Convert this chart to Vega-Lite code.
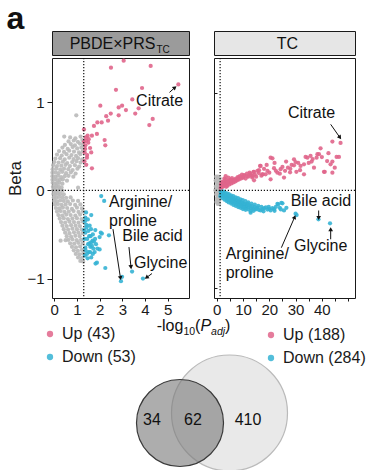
{
  "$schema": "https://vega.github.io/schema/vega-lite/v6.json",
  "background": "white",
  "padding": {"left": 6, "top": 2, "right": 0, "bottom": 0},
  "title": {"text": "a", "anchor": "start", "frame": "bounds", "fontSize": 32, "fontWeight": "bold", "color": "#111111", "offset": -5},
  "config": {
    "font": "Liberation Sans",
    "view": {"stroke": "#1a1a1a", "strokeWidth": 1},
    "axis": {"grid": false, "domain": false, "tickColor": "#1a1a1a", "labelColor": "#1a1a1a", "labelFontSize": 15, "titleFontSize": 17, "titleFontWeight": "normal", "titleColor": "#1a1a1a", "tickSize": 3, "labelPadding": 1},
    "legend": {"labelFontSize": 16, "labelColor": "#1a1a1a", "symbolSize": 40, "symbolType": "circle", "symbolStrokeWidth": 0, "symbolOpacity": 0.85, "rowPadding": 7, "labelOffset": 4, "padding": 0}
  },
  "datasets": {
    "pbde": [
      {"logp":0.70,"beta":0.60,"dir":"NS"},{"logp":0.93,"beta":0.59,"dir":"NS"},{"logp":1.16,"beta":0.61,"dir":"NS"},{"logp":0.44,"beta":0.61,"dir":"NS"},
      {"logp":0.63,"beta":0.555,"dir":"NS"},{"logp":0.86,"beta":0.565,"dir":"NS"},{"logp":1.04,"beta":0.55,"dir":"NS"},{"logp":1.24,"beta":0.57,"dir":"NS"},
      {"logp":0.47,"beta":0.515,"dir":"NS"},{"logp":0.73,"beta":0.525,"dir":"NS"},{"logp":0.91,"beta":0.51,"dir":"NS"},{"logp":1.13,"beta":0.53,"dir":"NS"},{"logp":1.27,"beta":0.515,"dir":"NS"},
      {"logp":0.36,"beta":0.485,"dir":"NS"},{"logp":0.59,"beta":0.47,"dir":"NS"},{"logp":0.81,"beta":0.49,"dir":"NS"},{"logp":1.01,"beta":0.475,"dir":"NS"},{"logp":1.19,"beta":0.485,"dir":"NS"},
      {"logp":0.21,"beta":0.445,"dir":"NS"},{"logp":0.43,"beta":0.435,"dir":"NS"},{"logp":0.66,"beta":0.45,"dir":"NS"},{"logp":0.87,"beta":0.44,"dir":"NS"},{"logp":1.09,"beta":0.43,"dir":"NS"},{"logp":1.26,"beta":0.445,"dir":"NS"},
      {"logp":0.12,"beta":0.405,"dir":"NS"},{"logp":0.33,"beta":0.395,"dir":"NS"},{"logp":0.54,"beta":0.41,"dir":"NS"},{"logp":0.76,"beta":0.40,"dir":"NS"},{"logp":0.96,"beta":0.39,"dir":"NS"},{"logp":1.15,"beta":0.41,"dir":"NS"},
      {"logp":0.05,"beta":0.36,"dir":"NS"},{"logp":0.26,"beta":0.365,"dir":"NS"},{"logp":0.46,"beta":0.35,"dir":"NS"},{"logp":0.66,"beta":0.37,"dir":"NS"},{"logp":0.85,"beta":0.355,"dir":"NS"},{"logp":1.05,"beta":0.365,"dir":"NS"},{"logp":1.23,"beta":0.35,"dir":"NS"},
      {"logp":0.00,"beta":0.32,"dir":"NS"},{"logp":0.19,"beta":0.315,"dir":"NS"},{"logp":0.38,"beta":0.325,"dir":"NS"},{"logp":0.57,"beta":0.31,"dir":"NS"},{"logp":0.79,"beta":0.32,"dir":"NS"},{"logp":0.98,"beta":0.33,"dir":"NS"},{"logp":1.16,"beta":0.315,"dir":"NS"},
      {"logp":-0.05,"beta":0.285,"dir":"NS"},{"logp":0.12,"beta":0.275,"dir":"NS"},{"logp":0.31,"beta":0.28,"dir":"NS"},{"logp":0.50,"beta":0.29,"dir":"NS"},{"logp":0.69,"beta":0.275,"dir":"NS"},{"logp":0.91,"beta":0.285,"dir":"NS"},{"logp":1.10,"beta":0.27,"dir":"NS"},
      {"logp":-0.07,"beta":0.24,"dir":"NS"},{"logp":0.09,"beta":0.245,"dir":"NS"},{"logp":0.26,"beta":0.235,"dir":"NS"},{"logp":0.43,"beta":0.245,"dir":"NS"},{"logp":0.62,"beta":0.24,"dir":"NS"},{"logp":0.81,"beta":0.23,"dir":"NS"},{"logp":1.02,"beta":0.245,"dir":"NS"},
      {"logp":-0.08,"beta":0.20,"dir":"NS"},{"logp":0.05,"beta":0.205,"dir":"NS"},{"logp":0.19,"beta":0.195,"dir":"NS"},{"logp":0.35,"beta":0.21,"dir":"NS"},{"logp":0.52,"beta":0.195,"dir":"NS"},{"logp":0.73,"beta":0.205,"dir":"NS"},{"logp":0.94,"beta":0.19,"dir":"NS"},
      {"logp":-0.08,"beta":0.16,"dir":"NS"},{"logp":0.04,"beta":0.155,"dir":"NS"},{"logp":0.16,"beta":0.165,"dir":"NS"},{"logp":0.30,"beta":0.15,"dir":"NS"},{"logp":0.46,"beta":0.16,"dir":"NS"},{"logp":0.63,"beta":0.165,"dir":"NS"},{"logp":0.84,"beta":0.155,"dir":"NS"},
      {"logp":-0.08,"beta":0.12,"dir":"NS"},{"logp":0.03,"beta":0.125,"dir":"NS"},{"logp":0.14,"beta":0.115,"dir":"NS"},{"logp":0.25,"beta":0.12,"dir":"NS"},{"logp":0.38,"beta":0.125,"dir":"NS"},{"logp":0.56,"beta":0.11,"dir":"NS"},
      {"logp":-0.07,"beta":0.085,"dir":"NS"},{"logp":0.03,"beta":0.075,"dir":"NS"},{"logp":0.12,"beta":0.08,"dir":"NS"},{"logp":0.22,"beta":0.085,"dir":"NS"},{"logp":0.36,"beta":0.075,"dir":"NS"},
      {"logp":-0.06,"beta":0.04,"dir":"NS"},{"logp":0.03,"beta":0.035,"dir":"NS"},{"logp":0.10,"beta":0.045,"dir":"NS"},{"logp":0.20,"beta":0.04,"dir":"NS"},{"logp":0.32,"beta":0.035,"dir":"NS"},{"logp":1.05,"beta":0.03,"dir":"NS"},
      {"logp":-0.05,"beta":0.005,"dir":"NS"},{"logp":0.04,"beta":-0.005,"dir":"NS"},{"logp":0.12,"beta":0.0,"dir":"NS"},{"logp":0.22,"beta":0.005,"dir":"NS"},{"logp":0.36,"beta":-0.002,"dir":"NS"},
      {"logp":-0.04,"beta":-0.04,"dir":"NS"},{"logp":0.05,"beta":-0.045,"dir":"NS"},{"logp":0.15,"beta":-0.035,"dir":"NS"},{"logp":0.27,"beta":-0.04,"dir":"NS"},{"logp":0.42,"beta":-0.045,"dir":"NS"},
      {"logp":-0.02,"beta":-0.08,"dir":"NS"},{"logp":0.08,"beta":-0.085,"dir":"NS"},{"logp":0.20,"beta":-0.075,"dir":"NS"},{"logp":0.35,"beta":-0.08,"dir":"NS"},{"logp":0.52,"beta":-0.085,"dir":"NS"},{"logp":0.72,"beta":-0.08,"dir":"NS"},
      {"logp":0.00,"beta":-0.12,"dir":"NS"},{"logp":0.12,"beta":-0.125,"dir":"NS"},{"logp":0.26,"beta":-0.115,"dir":"NS"},{"logp":0.42,"beta":-0.12,"dir":"NS"},{"logp":0.60,"beta":-0.125,"dir":"NS"},{"logp":0.82,"beta":-0.115,"dir":"NS"},{"logp":1.05,"beta":-0.12,"dir":"NS"},
      {"logp":0.03,"beta":-0.16,"dir":"NS"},{"logp":0.16,"beta":-0.155,"dir":"NS"},{"logp":0.32,"beta":-0.165,"dir":"NS"},{"logp":0.50,"beta":-0.16,"dir":"NS"},{"logp":0.70,"beta":-0.155,"dir":"NS"},{"logp":0.92,"beta":-0.165,"dir":"NS"},{"logp":1.15,"beta":-0.16,"dir":"NS"},
      {"logp":0.07,"beta":-0.20,"dir":"NS"},{"logp":0.22,"beta":-0.205,"dir":"NS"},{"logp":0.38,"beta":-0.195,"dir":"NS"},{"logp":0.57,"beta":-0.20,"dir":"NS"},{"logp":0.78,"beta":-0.21,"dir":"NS"},{"logp":1.00,"beta":-0.195,"dir":"NS"},{"logp":1.22,"beta":-0.205,"dir":"NS"},
      {"logp":0.12,"beta":-0.24,"dir":"NS"},{"logp":0.28,"beta":-0.235,"dir":"NS"},{"logp":0.45,"beta":-0.245,"dir":"NS"},{"logp":0.64,"beta":-0.24,"dir":"NS"},{"logp":0.85,"beta":-0.235,"dir":"NS"},{"logp":1.07,"beta":-0.245,"dir":"NS"},{"logp":1.27,"beta":-0.24,"dir":"NS"},
      {"logp":0.18,"beta":-0.28,"dir":"NS"},{"logp":0.35,"beta":-0.285,"dir":"NS"},{"logp":0.53,"beta":-0.275,"dir":"NS"},{"logp":0.72,"beta":-0.28,"dir":"NS"},{"logp":0.93,"beta":-0.285,"dir":"NS"},{"logp":1.14,"beta":-0.275,"dir":"NS"},
      {"logp":0.24,"beta":-0.32,"dir":"NS"},{"logp":0.42,"beta":-0.315,"dir":"NS"},{"logp":0.60,"beta":-0.325,"dir":"NS"},{"logp":0.80,"beta":-0.32,"dir":"NS"},{"logp":1.00,"beta":-0.315,"dir":"NS"},{"logp":1.20,"beta":-0.325,"dir":"NS"},
      {"logp":0.30,"beta":-0.36,"dir":"NS"},{"logp":0.48,"beta":-0.365,"dir":"NS"},{"logp":0.67,"beta":-0.355,"dir":"NS"},{"logp":0.87,"beta":-0.36,"dir":"NS"},{"logp":1.07,"beta":-0.365,"dir":"NS"},{"logp":1.26,"beta":-0.355,"dir":"NS"},
      {"logp":0.36,"beta":-0.40,"dir":"NS"},{"logp":0.55,"beta":-0.405,"dir":"NS"},{"logp":0.74,"beta":-0.395,"dir":"NS"},{"logp":0.94,"beta":-0.40,"dir":"NS"},{"logp":1.13,"beta":-0.405,"dir":"NS"},
      {"logp":0.42,"beta":-0.44,"dir":"NS"},{"logp":0.61,"beta":-0.445,"dir":"NS"},{"logp":0.80,"beta":-0.435,"dir":"NS"},{"logp":1.00,"beta":-0.44,"dir":"NS"},{"logp":1.20,"beta":-0.445,"dir":"NS"},
      {"logp":0.48,"beta":-0.48,"dir":"NS"},{"logp":0.67,"beta":-0.485,"dir":"NS"},{"logp":0.87,"beta":-0.475,"dir":"NS"},{"logp":1.06,"beta":-0.48,"dir":"NS"},{"logp":1.25,"beta":-0.485,"dir":"NS"},
      {"logp":0.55,"beta":-0.52,"dir":"NS"},{"logp":0.74,"beta":-0.525,"dir":"NS"},{"logp":0.93,"beta":-0.515,"dir":"NS"},{"logp":1.12,"beta":-0.52,"dir":"NS"},
      {"logp":0.50,"beta":-0.565,"dir":"NS"},{"logp":0.28,"beta":-0.57,"dir":"NS"},{"logp":0.62,"beta":-0.56,"dir":"NS"},{"logp":0.80,"beta":-0.555,"dir":"NS"},{"logp":0.99,"beta":-0.565,"dir":"NS"},{"logp":1.18,"beta":-0.56,"dir":"NS"},
      {"logp":0.70,"beta":-0.60,"dir":"NS"},{"logp":0.88,"beta":-0.605,"dir":"NS"},{"logp":1.06,"beta":-0.595,"dir":"NS"},{"logp":1.25,"beta":-0.60,"dir":"NS"},
      {"logp":0.78,"beta":-0.64,"dir":"NS"},{"logp":0.96,"beta":-0.645,"dir":"NS"},{"logp":1.14,"beta":-0.635,"dir":"NS"},
      {"logp":0.86,"beta":-0.68,"dir":"NS"},{"logp":1.04,"beta":-0.685,"dir":"NS"},{"logp":1.22,"beta":-0.675,"dir":"NS"},
      {"logp":0.95,"beta":-0.72,"dir":"NS"},{"logp":1.12,"beta":-0.725,"dir":"NS"},{"logp":1.28,"beta":-0.715,"dir":"NS"},
      {"logp":1.05,"beta":-0.76,"dir":"NS"},{"logp":1.22,"beta":-0.765,"dir":"NS"},{"logp":1.15,"beta":-0.80,"dir":"NS"},{"logp":1.27,"beta":-0.805,"dir":"NS"},
      {"logp":0.97,"beta":0.85,"dir":"NS"},
      {"logp":3.06,"beta":1.47,"dir":"Up"},{"logp":2.50,"beta":1.39,"dir":"Up"},{"logp":4.25,"beta":1.41,"dir":"Up"},{"logp":5.47,"beta":1.20,"dir":"Up"},{"logp":2.72,"beta":1.14,"dir":"Up"},
      {"logp":3.87,"beta":1.16,"dir":"Up"},{"logp":3.44,"beta":1.03,"dir":"Up"},{"logp":2.03,"beta":0.96,"dir":"Up"},{"logp":2.84,"beta":0.94,"dir":"Up"},{"logp":2.99,"beta":0.96,"dir":"Up"},
      {"logp":3.16,"beta":0.91,"dir":"Up"},{"logp":2.49,"beta":0.87,"dir":"Up"},{"logp":2.29,"beta":0.84,"dir":"Up"},{"logp":2.84,"beta":0.85,"dir":"Up"},{"logp":3.57,"beta":0.87,"dir":"Up"},
      {"logp":3.72,"beta":0.93,"dir":"Up"},{"logp":4.34,"beta":0.81,"dir":"Up"},{"logp":4.19,"beta":0.74,"dir":"Up"},{"logp":2.37,"beta":0.79,"dir":"Up"},{"logp":2.09,"beta":0.77,"dir":"Up"},
      {"logp":1.90,"beta":0.77,"dir":"Up"},{"logp":1.75,"beta":0.73,"dir":"Up"},{"logp":1.31,"beta":0.69,"dir":"Up"},{"logp":1.66,"beta":0.62,"dir":"Up"},{"logp":1.88,"beta":0.64,"dir":"Up"},
      {"logp":1.47,"beta":0.62,"dir":"Up"},{"logp":2.22,"beta":0.57,"dir":"Up"},{"logp":2.25,"beta":0.51,"dir":"Up"},{"logp":1.40,"beta":0.56,"dir":"Up"},{"logp":1.37,"beta":0.51,"dir":"Up"},
      {"logp":1.63,"beta":0.43,"dir":"Up"},{"logp":1.44,"beta":0.37,"dir":"Up"},{"logp":1.41,"beta":0.29,"dir":"Up"},{"logp":1.66,"beta":0.25,"dir":"Up"},{"logp":1.34,"beta":0.43,"dir":"Up"},
      {"logp":1.50,"beta":0.54,"dir":"Up"},{"logp":1.36,"beta":0.47,"dir":"Up"},{"logp":1.45,"beta":0.40,"dir":"Up"},{"logp":1.33,"beta":0.33,"dir":"Up"},{"logp":1.52,"beta":0.58,"dir":"Up"},
      {"logp":1.39,"beta":0.60,"dir":"Up"},{"logp":1.58,"beta":0.48,"dir":"Up"},{"logp":1.31,"beta":0.55,"dir":"Up"},
      {"logp":2.07,"beta":-0.065,"dir":"Down"},{"logp":2.20,"beta":-0.12,"dir":"Down"},{"logp":1.63,"beta":-0.28,"dir":"Down"},{"logp":1.37,"beta":-0.31,"dir":"Down"},{"logp":1.41,"beta":-0.39,"dir":"Down"},
      {"logp":1.81,"beta":-0.45,"dir":"Down"},{"logp":2.10,"beta":-0.49,"dir":"Down"},{"logp":2.00,"beta":-0.53,"dir":"Down"},{"logp":1.69,"beta":-0.57,"dir":"Down"},{"logp":1.62,"beta":-0.59,"dir":"Down"},
      {"logp":1.49,"beta":-0.61,"dir":"Down"},{"logp":1.84,"beta":-0.61,"dir":"Down"},{"logp":2.00,"beta":-0.67,"dir":"Down"},{"logp":1.78,"beta":-0.70,"dir":"Down"},{"logp":1.44,"beta":-0.72,"dir":"Down"},
      {"logp":1.63,"beta":-0.76,"dir":"Down"},{"logp":1.88,"beta":-0.82,"dir":"Down"},{"logp":2.25,"beta":-0.88,"dir":"Down"},{"logp":3.43,"beta":-0.92,"dir":"Down"},{"logp":2.99,"beta":-0.98,"dir":"Down"},
      {"logp":2.94,"beta":-1.03,"dir":"Down"},{"logp":3.91,"beta":-1.00,"dir":"Down"},{"logp":1.37,"beta":-0.48,"dir":"Down"},{"logp":1.54,"beta":-0.52,"dir":"Down"},{"logp":1.37,"beta":-0.65,"dir":"Down"},
      {"logp":1.59,"beta":-0.64,"dir":"Down"},{"logp":1.35,"beta":-0.35,"dir":"Down"},{"logp":1.42,"beta":-0.42,"dir":"Down"},{"logp":1.50,"beta":-0.46,"dir":"Down"},{"logp":1.56,"beta":-0.40,"dir":"Down"},
      {"logp":1.33,"beta":-0.55,"dir":"Down"},{"logp":1.45,"beta":-0.55,"dir":"Down"},{"logp":1.60,"beta":-0.52,"dir":"Down"},{"logp":1.70,"beta":-0.50,"dir":"Down"},{"logp":1.75,"beta":-0.58,"dir":"Down"},
      {"logp":1.55,"beta":-0.60,"dir":"Down"},{"logp":1.66,"beta":-0.63,"dir":"Down"},{"logp":1.38,"beta":-0.68,"dir":"Down"},{"logp":1.52,"beta":-0.70,"dir":"Down"},{"logp":1.70,"beta":-0.72,"dir":"Down"},
      {"logp":1.35,"beta":-0.74,"dir":"Down"},{"logp":1.47,"beta":-0.77,"dir":"Down"},{"logp":1.58,"beta":-0.70,"dir":"Down"},{"logp":1.90,"beta":-0.66,"dir":"Down"},{"logp":2.41,"beta":-0.51,"dir":"Down"},
      {"logp":1.40,"beta":-0.25,"dir":"Down"},{"logp":1.32,"beta":-0.45,"dir":"Down"},{"logp":1.62,"beta":-0.44,"dir":"Down"},{"logp":1.80,"beta":-0.55,"dir":"Down"},{"logp":1.48,"beta":-0.33,"dir":"Down"},
      {"logp":2.05,"beta":-0.48,"dir":"Down"},{"logp":1.72,"beta":-0.66,"dir":"Down"},{"logp":1.82,"beta":-0.83,"dir":"Down"}
    ],
    "tc": [
      {"logp":-0.5,"beta":0.0,"dir":"NS"},{"logp":-0.3,"beta":0.02,"dir":"NS"},{"logp":-0.2,"beta":-0.02,"dir":"NS"},{"logp":0.0,"beta":0.04,"dir":"NS"},{"logp":0.1,"beta":-0.04,"dir":"NS"},
      {"logp":0.2,"beta":0.01,"dir":"NS"},{"logp":0.3,"beta":-0.01,"dir":"NS"},{"logp":0.4,"beta":0.03,"dir":"NS"},{"logp":0.5,"beta":-0.03,"dir":"NS"},{"logp":0.6,"beta":0.0,"dir":"NS"},
      {"logp":0.7,"beta":0.02,"dir":"NS"},{"logp":0.8,"beta":-0.02,"dir":"NS"},{"logp":0.9,"beta":0.05,"dir":"NS"},{"logp":1.0,"beta":-0.05,"dir":"NS"},{"logp":1.1,"beta":0.01,"dir":"NS"},
      {"logp":1.2,"beta":-0.01,"dir":"NS"},{"logp":-0.4,"beta":0.05,"dir":"NS"},{"logp":-0.1,"beta":-0.06,"dir":"NS"},{"logp":0.3,"beta":0.06,"dir":"NS"},{"logp":0.6,"beta":-0.06,"dir":"NS"},
      {"logp":0.8,"beta":0.04,"dir":"NS"},{"logp":1.0,"beta":0.03,"dir":"NS"},{"logp":1.2,"beta":-0.04,"dir":"NS"},{"logp":0.0,"beta":0.0,"dir":"NS"},{"logp":0.4,"beta":-0.07,"dir":"NS"},
      {"logp":0.9,"beta":-0.07,"dir":"NS"},{"logp":0.5,"beta":0.07,"dir":"NS"},{"logp":-0.2,"beta":0.07,"dir":"NS"},{"logp":1.15,"beta":0.06,"dir":"NS"},{"logp":0.2,"beta":-0.05,"dir":"NS"},
      {"logp":1.5,"beta":0.012,"dir":"Up"},{"logp":1.8,"beta":0.02,"dir":"Up"},{"logp":2.0,"beta":0.015,"dir":"Up"},{"logp":2.2,"beta":0.028,"dir":"Up"},{"logp":2.5,"beta":0.02,"dir":"Up"},
      {"logp":2.7,"beta":0.035,"dir":"Up"},{"logp":3.0,"beta":0.025,"dir":"Up"},{"logp":3.2,"beta":0.04,"dir":"Up"},{"logp":3.5,"beta":0.03,"dir":"Up"},{"logp":3.8,"beta":0.045,"dir":"Up"},
      {"logp":4.0,"beta":0.022,"dir":"Up"},{"logp":4.2,"beta":0.038,"dir":"Up"},{"logp":4.5,"beta":0.05,"dir":"Up"},{"logp":4.8,"beta":0.03,"dir":"Up"},{"logp":5.0,"beta":0.042,"dir":"Up"},
      {"logp":5.3,"beta":0.055,"dir":"Up"},{"logp":5.6,"beta":0.035,"dir":"Up"},{"logp":6.0,"beta":0.048,"dir":"Up"},{"logp":1.6,"beta":0.03,"dir":"Up"},{"logp":2.4,"beta":0.045,"dir":"Up"},
      {"logp":3.3,"beta":0.055,"dir":"Up"},{"logp":2.9,"beta":0.06,"dir":"Up"},{"logp":4.4,"beta":0.065,"dir":"Up"},{"logp":1.9,"beta":0.04,"dir":"Up"},{"logp":3.6,"beta":0.018,"dir":"Up"},
      {"logp":5.8,"beta":0.062,"dir":"Up"},{"logp":6.3,"beta":0.04,"dir":"Up"},{"logp":6.6,"beta":0.055,"dir":"Up"},{"logp":7.0,"beta":0.045,"dir":"Up"},{"logp":7.3,"beta":0.06,"dir":"Up"},
      {"logp":7.6,"beta":0.05,"dir":"Up"},{"logp":8.0,"beta":0.068,"dir":"Up"},{"logp":8.4,"beta":0.055,"dir":"Up"},{"logp":8.8,"beta":0.072,"dir":"Up"},{"logp":9.2,"beta":0.06,"dir":"Up"},
      {"logp":9.6,"beta":0.08,"dir":"Up"},{"logp":10.0,"beta":0.065,"dir":"Up"},{"logp":10.5,"beta":0.075,"dir":"Up"},{"logp":11.0,"beta":0.06,"dir":"Up"},{"logp":11.5,"beta":0.085,"dir":"Up"},
      {"logp":12.0,"beta":0.07,"dir":"Up"},{"logp":12.5,"beta":0.09,"dir":"Up"},{"logp":13.0,"beta":0.078,"dir":"Up"},{"logp":13.5,"beta":0.065,"dir":"Up"},{"logp":14.0,"beta":0.095,"dir":"Up"},
      {"logp":14.5,"beta":0.08,"dir":"Up"},{"logp":15.0,"beta":0.07,"dir":"Up"},{"logp":15.5,"beta":0.1,"dir":"Up"},{"logp":16.0,"beta":0.088,"dir":"Up"},{"logp":16.5,"beta":0.125,"dir":"Up"},
      {"logp":17.0,"beta":0.075,"dir":"Up"},{"logp":17.5,"beta":0.082,"dir":"Up"},{"logp":18.0,"beta":0.11,"dir":"Up"},{"logp":18.6,"beta":0.082,"dir":"Up"},{"logp":19.3,"beta":0.099,"dir":"Up"},
      {"logp":20.0,"beta":0.09,"dir":"Up"},{"logp":20.5,"beta":0.056,"dir":"Up"},{"logp":21.2,"beta":0.164,"dir":"Up"},{"logp":21.8,"beta":0.113,"dir":"Up"},{"logp":22.5,"beta":0.1,"dir":"Up"},
      {"logp":23.1,"beta":0.09,"dir":"Up"},{"logp":24.3,"beta":0.108,"dir":"Up"},{"logp":25.0,"beta":0.12,"dir":"Up"},{"logp":25.6,"beta":0.065,"dir":"Up"},{"logp":26.4,"beta":0.147,"dir":"Up"},
      {"logp":27.1,"beta":0.116,"dir":"Up"},{"logp":27.9,"beta":0.092,"dir":"Up"},{"logp":28.5,"beta":0.13,"dir":"Up"},{"logp":29.4,"beta":0.128,"dir":"Up"},{"logp":29.4,"beta":0.159,"dir":"Up"},
      {"logp":30.3,"beta":0.095,"dir":"Up"},{"logp":31.0,"beta":0.14,"dir":"Up"},{"logp":31.7,"beta":0.103,"dir":"Up"},{"logp":31.9,"beta":0.125,"dir":"Up"},{"logp":33.2,"beta":0.133,"dir":"Up"},
      {"logp":33.2,"beta":0.082,"dir":"Up"},{"logp":33.8,"beta":0.171,"dir":"Up"},{"logp":34.5,"beta":0.167,"dir":"Up"},{"logp":35.7,"beta":0.176,"dir":"Up"},{"logp":36.1,"beta":0.147,"dir":"Up"},
      {"logp":37.0,"beta":0.116,"dir":"Up"},{"logp":38.0,"beta":0.167,"dir":"Up"},{"logp":38.3,"beta":0.185,"dir":"Up"},{"logp":38.9,"beta":0.185,"dir":"Up"},{"logp":39.5,"beta":0.215,"dir":"Up"},
      {"logp":40.8,"beta":0.095,"dir":"Up"},{"logp":41.1,"beta":0.095,"dir":"Up"},{"logp":42.0,"beta":0.15,"dir":"Up"},{"logp":43.3,"beta":0.133,"dir":"Up"},{"logp":44.0,"beta":0.147,"dir":"Up"},
      {"logp":44.0,"beta":0.09,"dir":"Up"},{"logp":44.9,"beta":0.116,"dir":"Up"},{"logp":45.6,"beta":0.171,"dir":"Up"},{"logp":46.5,"beta":0.171,"dir":"Up"},{"logp":44.0,"beta":0.25,"dir":"Up"},
      {"logp":47.1,"beta":0.243,"dir":"Up"},{"logp":10.4,"beta":0.078,"dir":"Up"},{"logp":9.8,"beta":0.065,"dir":"Up"},{"logp":8.5,"beta":0.065,"dir":"Up"},{"logp":7.9,"beta":0.056,"dir":"Up"},
      {"logp":6.6,"beta":0.051,"dir":"Up"},{"logp":5.3,"beta":0.048,"dir":"Up"},{"logp":4.1,"beta":0.039,"dir":"Up"},{"logp":2.8,"beta":0.031,"dir":"Up"},{"logp":3.4,"beta":0.073,"dir":"Up"},
      {"logp":14.2,"beta":0.051,"dir":"Up"},{"logp":20.5,"beta":0.167,"dir":"Up"},{"logp":16.1,"beta":0.103,"dir":"Up"},{"logp":17.4,"beta":0.082,"dir":"Up"},{"logp":14.2,"beta":0.095,"dir":"Up"},
      {"logp":12.9,"beta":0.085,"dir":"Up"},{"logp":11.7,"beta":0.073,"dir":"Up"},{"logp":13.6,"beta":0.073,"dir":"Up"},{"logp":16.7,"beta":0.125,"dir":"Up"},{"logp":19.0,"beta":0.13,"dir":"Up"},
      {"logp":22.0,"beta":0.14,"dir":"Up"},{"logp":24.0,"beta":0.085,"dir":"Up"},{"logp":26.0,"beta":0.1,"dir":"Up"},{"logp":28.0,"beta":0.11,"dir":"Up"},{"logp":30.0,"beta":0.145,"dir":"Up"},
      {"logp":35.0,"beta":0.14,"dir":"Up"},{"logp":36.5,"beta":0.16,"dir":"Up"},{"logp":40.0,"beta":0.17,"dir":"Up"},{"logp":42.5,"beta":0.19,"dir":"Up"},
      {"logp":1.5,"beta":-0.008,"dir":"Down"},{"logp":1.8,"beta":-0.015,"dir":"Down"},{"logp":2.0,"beta":-0.01,"dir":"Down"},{"logp":2.3,"beta":-0.022,"dir":"Down"},{"logp":2.6,"beta":-0.015,"dir":"Down"},
      {"logp":2.9,"beta":-0.028,"dir":"Down"},{"logp":3.2,"beta":-0.02,"dir":"Down"},{"logp":3.5,"beta":-0.032,"dir":"Down"},{"logp":3.8,"beta":-0.025,"dir":"Down"},{"logp":4.1,"beta":-0.038,"dir":"Down"},
      {"logp":4.4,"beta":-0.03,"dir":"Down"},{"logp":4.7,"beta":-0.042,"dir":"Down"},{"logp":5.0,"beta":-0.035,"dir":"Down"},{"logp":5.3,"beta":-0.045,"dir":"Down"},{"logp":5.6,"beta":-0.038,"dir":"Down"},
      {"logp":5.9,"beta":-0.05,"dir":"Down"},{"logp":6.2,"beta":-0.042,"dir":"Down"},{"logp":6.5,"beta":-0.055,"dir":"Down"},{"logp":6.8,"beta":-0.046,"dir":"Down"},{"logp":7.1,"beta":-0.058,"dir":"Down"},
      {"logp":7.4,"beta":-0.05,"dir":"Down"},{"logp":7.7,"beta":-0.062,"dir":"Down"},{"logp":8.0,"beta":-0.054,"dir":"Down"},{"logp":8.3,"beta":-0.066,"dir":"Down"},{"logp":8.6,"beta":-0.057,"dir":"Down"},
      {"logp":8.9,"beta":-0.07,"dir":"Down"},{"logp":9.2,"beta":-0.06,"dir":"Down"},{"logp":9.5,"beta":-0.072,"dir":"Down"},{"logp":9.8,"beta":-0.064,"dir":"Down"},{"logp":10.1,"beta":-0.077,"dir":"Down"},
      {"logp":10.4,"beta":-0.068,"dir":"Down"},{"logp":10.7,"beta":-0.08,"dir":"Down"},{"logp":11.0,"beta":-0.072,"dir":"Down"},{"logp":11.4,"beta":-0.083,"dir":"Down"},{"logp":11.8,"beta":-0.075,"dir":"Down"},
      {"logp":12.2,"beta":-0.088,"dir":"Down"},{"logp":12.6,"beta":-0.078,"dir":"Down"},{"logp":13.0,"beta":-0.092,"dir":"Down"},{"logp":13.4,"beta":-0.082,"dir":"Down"},{"logp":13.8,"beta":-0.095,"dir":"Down"},
      {"logp":14.3,"beta":-0.085,"dir":"Down"},{"logp":14.8,"beta":-0.098,"dir":"Down"},{"logp":15.5,"beta":-0.089,"dir":"Down"},{"logp":16.0,"beta":-0.1,"dir":"Down"},{"logp":16.7,"beta":-0.103,"dir":"Down"},
      {"logp":17.4,"beta":-0.097,"dir":"Down"},{"logp":18.0,"beta":-0.092,"dir":"Down"},{"logp":18.7,"beta":-0.088,"dir":"Down"},{"logp":19.3,"beta":-0.099,"dir":"Down"},{"logp":20.0,"beta":-0.095,"dir":"Down"},
      {"logp":20.5,"beta":-0.103,"dir":"Down"},{"logp":21.2,"beta":-0.092,"dir":"Down"},{"logp":21.8,"beta":-0.097,"dir":"Down"},{"logp":22.5,"beta":-0.085,"dir":"Down"},{"logp":23.1,"beta":-0.069,"dir":"Down"},
      {"logp":23.4,"beta":-0.072,"dir":"Down"},{"logp":24.0,"beta":-0.09,"dir":"Down"},{"logp":24.6,"beta":-0.064,"dir":"Down"},{"logp":25.0,"beta":-0.067,"dir":"Down"},{"logp":25.6,"beta":-0.103,"dir":"Down"},
      {"logp":26.5,"beta":-0.09,"dir":"Down"},{"logp":30.0,"beta":-0.12,"dir":"Down"},{"logp":30.4,"beta":-0.127,"dir":"Down"},{"logp":38.7,"beta":-0.149,"dir":"Down"},{"logp":43.1,"beta":-0.169,"dir":"Down"},
      {"logp":2.1,"beta":-0.025,"dir":"Down"},{"logp":2.8,"beta":-0.035,"dir":"Down"},{"logp":3.4,"beta":-0.04,"dir":"Down"},{"logp":4.0,"beta":-0.048,"dir":"Down"},{"logp":4.8,"beta":-0.052,"dir":"Down"},
      {"logp":5.5,"beta":-0.058,"dir":"Down"},{"logp":6.1,"beta":-0.062,"dir":"Down"},{"logp":7.0,"beta":-0.068,"dir":"Down"},{"logp":7.8,"beta":-0.072,"dir":"Down"},{"logp":8.5,"beta":-0.078,"dir":"Down"},
      {"logp":9.3,"beta":-0.082,"dir":"Down"},{"logp":10.2,"beta":-0.088,"dir":"Down"},{"logp":11.1,"beta":-0.092,"dir":"Down"},{"logp":12.0,"beta":-0.098,"dir":"Down"},{"logp":12.9,"beta":-0.106,"dir":"Down"},
      {"logp":12.9,"beta":-0.115,"dir":"Down"},{"logp":11.7,"beta":-0.07,"dir":"Down"},{"logp":10.4,"beta":-0.089,"dir":"Down"},{"logp":15.2,"beta":-0.093,"dir":"Down"},{"logp":1.6,"beta":-0.02,"dir":"Down"},
      {"logp":2.4,"beta":-0.006,"dir":"Down"},{"logp":3.1,"beta":-0.012,"dir":"Down"},{"logp":3.9,"beta":-0.016,"dir":"Down"},{"logp":4.6,"beta":-0.02,"dir":"Down"},{"logp":5.4,"beta":-0.026,"dir":"Down"},
      {"logp":6.3,"beta":-0.03,"dir":"Down"},{"logp":7.2,"beta":-0.036,"dir":"Down"},{"logp":8.1,"beta":-0.04,"dir":"Down"},{"logp":9.0,"beta":-0.046,"dir":"Down"},{"logp":9.9,"beta":-0.05,"dir":"Down"},
      {"logp":10.9,"beta":-0.056,"dir":"Down"},{"logp":12.0,"beta":-0.062,"dir":"Down"},{"logp":13.2,"beta":-0.068,"dir":"Down"},{"logp":14.5,"beta":-0.074,"dir":"Down"},{"logp":15.8,"beta":-0.08,"dir":"Down"},
      {"logp":17.0,"beta":-0.085,"dir":"Down"},{"logp":1.4,"beta":-0.03,"dir":"Down"},{"logp":2.2,"beta":-0.04,"dir":"Down"},{"logp":3.0,"beta":-0.048,"dir":"Down"},{"logp":3.8,"beta":-0.055,"dir":"Down"},
      {"logp":4.6,"beta":-0.062,"dir":"Down"},{"logp":5.5,"beta":-0.068,"dir":"Down"},{"logp":6.4,"beta":-0.075,"dir":"Down"},{"logp":7.3,"beta":-0.08,"dir":"Down"},{"logp":8.2,"beta":-0.086,"dir":"Down"},
      {"logp":9.1,"beta":-0.09,"dir":"Down"},{"logp":10.0,"beta":-0.096,"dir":"Down"},{"logp":11.0,"beta":-0.1,"dir":"Down"},{"logp":14.0,"beta":-0.105,"dir":"Down"},{"logp":17.8,"beta":-0.108,"dir":"Down"},
      {"logp":19.8,"beta":-0.085,"dir":"Down"},{"logp":22.0,"beta":-0.105,"dir":"Down"},{"logp":24.4,"beta":-0.098,"dir":"Down"}
    ],
    "cutoff": [{"logp": 1.3, "beta": 0}],
    "pbdeLabels": [
      {"label": "Citrate", "logp": 3.607, "beta": 0.956},
      {"label": "Arginine/\nproline", "logp": 2.412, "beta": -0.189},
      {"label": "Bile acid", "logp": 2.998, "beta": -0.575},
      {"label": "Glycine", "logp": 3.514, "beta": -0.875}
    ],
    "pbdeArrows": [
      {"label": "Citrate", "fromLogp": 5.08, "fromBeta": 1.11, "toLogp": 5.32, "toBeta": 1.166, "heading": 51},
      {"label": "Arginine/proline", "fromLogp": 2.588, "fromBeta": -0.439, "toLogp": 2.919, "toBeta": -0.994, "heading": 170},
      {"label": "Bile acid", "fromLogp": 3.294, "fromBeta": -0.643, "toLogp": 3.382, "toBeta": -0.87, "heading": 174},
      {"label": "Glycine", "fromLogp": 4.308, "fromBeta": -0.943, "toLogp": 4.065, "toBeta": -0.989, "heading": 234}
    ],
    "tcLabels": [
      {"label": "Citrate", "logp": 27.1, "beta": 0.372},
      {"label": "Arginine/\nproline", "logp": 3.42, "beta": -0.354},
      {"label": "Bile acid", "logp": 28.14, "beta": -0.0805},
      {"label": "Glycine", "logp": 29.4, "beta": -0.311}
    ],
    "tcArrows": [
      {"label": "Citrate", "fromLogp": 43.35, "fromBeta": 0.338, "toLogp": 46.88, "toBeta": 0.27, "heading": 145},
      {"label": "Arginine/proline", "fromLogp": 24.6, "fromBeta": -0.294, "toLogp": 29.66, "toBeta": -0.137, "heading": 23},
      {"label": "Bile acid", "fromLogp": 38.78, "fromBeta": -0.1036, "toLogp": 38.78, "toBeta": -0.1421, "heading": 180},
      {"label": "Glycine", "fromLogp": 43.35, "fromBeta": -0.251, "toLogp": 43.35, "toBeta": -0.2, "heading": 0}
    ],
    "vennSets": [
      {"set": "PBDE×PRS_TC", "cx": 14.1, "cy": 4.7},
      {"set": "TC", "cx": 19.05, "cy": 5.7}
    ],
    "vennCounts": [
      {"region": "PBDE×PRS_TC only", "n": 34, "lx": 11.3, "ly": 5.0},
      {"region": "both", "n": 62, "lx": 15.4, "ly": 5.0},
      {"region": "TC only", "n": 410, "lx": 20.9, "ly": 5.0}
    ]
  },
  "bounds": "flush",
  "spacing": 284,
  "vconcat": [
    {
      "spacing": 21,
      "resolve": {"scale": {"color": "independent"}, "legend": {"color": "independent"}},
      "hconcat": [
        {
          "spacing": 0,
          "resolve": {"scale": {"color": "independent"}, "legend": {"color": "independent"}},
          "vconcat": [
            {
              "width": 137,
              "height": 24,
              "view": {"fill": "#9b9b9b", "stroke": "#1a1a1a"},
              "data": {"values": [{"panel": "PBDE×PRS", "sub": "TC"}]},
              "layer": [
                {"mark": {"type": "text", "fontSize": 16, "align": "right", "baseline": "alphabetic", "dx": 35, "dy": 6, "color": "#111111"}, "encoding": {"text": {"field": "panel"}}},
                {"mark": {"type": "text", "fontSize": 10, "align": "left", "baseline": "alphabetic", "dx": 36, "dy": 10, "color": "#111111"}, "encoding": {"text": {"field": "sub"}}}
              ]
            },
            {
              "width": 137,
              "height": 240,
              "encoding": {
                "x": {"type": "quantitative", "scale": {"domain": [-0.1, 5.94], "nice": false, "zero": false}, "axis": {"values": [0, 1, 2, 3, 4, 5], "title": null}},
                "y": {"type": "quantitative", "scale": {"domain": [-1.22, 1.5], "nice": false, "zero": false}, "axis": {"values": [-1, 0, 1], "title": "Beta", "tickSize": 5, "labelPadding": 3, "titlePadding": 2}}
              },
              "layer": [
                {
                  "data": {"name": "pbde"},
                  "mark": {"type": "circle", "size": 18, "opacity": 0.9},
                  "encoding": {
                    "x": {"field": "logp", "type": "quantitative"},
                    "y": {"field": "beta", "type": "quantitative"},
                    "color": {"field": "dir", "type": "nominal", "scale": {"domain": ["Up", "Down", "NS"], "range": ["#e0658b", "#35b3d4", "#b9b9b9"]},
                      "legend": {"values": ["Up", "Down"], "labelExpr": "datum.label === 'Up' ? 'Up (43)' : 'Down (53)'", "title": null, "orient": "none", "legendX": -10, "legendY": 268}}
                  }
                },
                {
                  "data": {"name": "cutoff"},
                  "mark": {"type": "rule", "color": "#111111", "strokeDash": [1.2, 1.8], "strokeWidth": 1.2},
                  "encoding": {"x": {"field": "logp", "type": "quantitative"}}
                },
                {
                  "data": {"name": "cutoff"},
                  "mark": {"type": "rule", "color": "#111111", "strokeDash": [1.2, 1.8], "strokeWidth": 1.2},
                  "encoding": {"y": {"field": "beta", "type": "quantitative"}}
                },
                {
                  "data": {"name": "pbdeArrows"},
                  "mark": {"type": "rule", "color": "#111111", "strokeWidth": 1},
                  "encoding": {"x": {"field": "fromLogp", "type": "quantitative"}, "y": {"field": "fromBeta", "type": "quantitative"}, "x2": {"field": "toLogp"}, "y2": {"field": "toBeta"}}
                },
                {
                  "data": {"name": "pbdeArrows"},
                  "mark": {"type": "point", "shape": "triangle-up", "filled": true, "size": 22, "color": "#111111", "opacity": 1},
                  "encoding": {"x": {"field": "toLogp", "type": "quantitative"}, "y": {"field": "toBeta", "type": "quantitative"}, "angle": {"field": "heading", "type": "quantitative", "scale": null}}
                },
                {
                  "data": {"name": "pbdeLabels"},
                  "mark": {"type": "text", "fontSize": 16, "align": "left", "baseline": "alphabetic", "lineBreak": "\n", "lineHeight": 19, "color": "#111111"},
                  "encoding": {"x": {"field": "logp", "type": "quantitative"}, "y": {"field": "beta", "type": "quantitative"}, "text": {"field": "label"}}
                }
              ]
            }
          ]
        },
        {
          "spacing": 0,
          "resolve": {"scale": {"color": "independent"}, "legend": {"color": "independent"}},
          "vconcat": [
            {
              "width": 141,
              "height": 24,
              "view": {"fill": "#e6e6e6", "stroke": "#1a1a1a"},
              "data": {"values": [{"panel": "TC"}]},
              "mark": {"type": "text", "fontSize": 16, "align": "center", "baseline": "alphabetic", "dx": 3, "dy": 6, "color": "#111111"},
              "encoding": {"text": {"field": "panel"}}
            },
            {
              "width": 141,
              "height": 240,
              "encoding": {
                "x": {"type": "quantitative", "scale": {"domain": [-1.03, 52.6], "nice": false, "zero": false}, "axis": {"values": [0, 5, 10, 15, 20, 25, 30, 35, 40, 45, 50], "labelExpr": "datum.value % 10 === 0 && datum.value < 50 ? datum.label : ''", "title": null}},
                "y": {"type": "quantitative", "scale": {"domain": [-0.552, 0.678], "nice": false, "zero": false}, "axis": {"values": [-0.5, 0.5], "labels": false, "tickSize": -3, "title": null}}
              },
              "layer": [
                {
                  "data": {"name": "tc"},
                  "mark": {"type": "circle", "size": 18, "opacity": 0.9},
                  "encoding": {
                    "x": {"field": "logp", "type": "quantitative"},
                    "y": {"field": "beta", "type": "quantitative"},
                    "color": {"field": "dir", "type": "nominal", "scale": {"domain": ["Up", "Down", "NS"], "range": ["#e0658b", "#35b3d4", "#b9b9b9"]},
                      "legend": {"values": ["Up", "Down"], "labelExpr": "datum.label === 'Up' ? 'Up (188)' : 'Down (284)'", "title": null, "orient": "none", "legendX": 49, "legendY": 269}}
                  }
                },
                {
                  "data": {"name": "cutoff"},
                  "mark": {"type": "rule", "color": "#111111", "strokeDash": [1.2, 1.8], "strokeWidth": 1.2},
                  "encoding": {"x": {"field": "logp", "type": "quantitative"}}
                },
                {
                  "data": {"name": "cutoff"},
                  "mark": {"type": "rule", "color": "#111111", "strokeDash": [1.2, 1.8], "strokeWidth": 1.2},
                  "encoding": {"y": {"field": "beta", "type": "quantitative"}}
                },
                {
                  "data": {"name": "tcArrows"},
                  "mark": {"type": "rule", "color": "#111111", "strokeWidth": 1},
                  "encoding": {"x": {"field": "fromLogp", "type": "quantitative"}, "y": {"field": "fromBeta", "type": "quantitative"}, "x2": {"field": "toLogp"}, "y2": {"field": "toBeta"}}
                },
                {
                  "data": {"name": "tcArrows"},
                  "mark": {"type": "point", "shape": "triangle-up", "filled": true, "size": 22, "color": "#111111", "opacity": 1},
                  "encoding": {"x": {"field": "toLogp", "type": "quantitative"}, "y": {"field": "toBeta", "type": "quantitative"}, "angle": {"field": "heading", "type": "quantitative", "scale": null}}
                },
                {
                  "data": {"name": "tcLabels"},
                  "mark": {"type": "text", "fontSize": 16, "align": "left", "baseline": "alphabetic", "lineBreak": "\n", "lineHeight": 19, "color": "#111111"},
                  "encoding": {"x": {"field": "logp", "type": "quantitative"}, "y": {"field": "beta", "type": "quantitative"}, "text": {"field": "label"}}
                }
              ]
            }
          ]
        }
      ]
    },
    {
      "width": 310,
      "height": 155,
      "view": {"stroke": null},
      "encoding": {
        "x": {"type": "quantitative", "scale": {"domain": [1.3, 32.3], "nice": false, "zero": false}, "axis": null},
        "y": {"type": "quantitative", "scale": {"domain": [0, 15.5], "nice": false, "zero": false}, "axis": null}
      },
      "layer": [
        {
          "data": {"name": "vennSets"},
          "transform": [{"filter": "datum.set === 'TC'"}],
          "mark": {"type": "circle", "size": 13456, "fill": "#e9e9e9", "stroke": "#bababa", "strokeWidth": 1.2, "opacity": 1},
          "encoding": {"x": {"field": "cx", "type": "quantitative"}, "y": {"field": "cy", "type": "quantitative"}}
        },
        {
          "data": {"name": "vennSets"},
          "transform": [{"filter": "datum.set === 'PBDE×PRS_TC'"}],
          "mark": {"type": "circle", "size": 7569, "fill": "#7a7a7a", "strokeWidth": 0, "opacity": 0.62},
          "encoding": {"x": {"field": "cx", "type": "quantitative"}, "y": {"field": "cy", "type": "quantitative"}}
        },
        {
          "data": {"name": "vennSets"},
          "transform": [{"filter": "datum.set === 'PBDE×PRS_TC'"}],
          "mark": {"type": "point", "shape": "circle", "filled": false, "size": 7569, "stroke": "#3a3a3a", "strokeWidth": 1.2, "opacity": 1},
          "encoding": {"x": {"field": "cx", "type": "quantitative"}, "y": {"field": "cy", "type": "quantitative"}}
        },
        {
          "data": {"name": "vennCounts"},
          "mark": {"type": "text", "fontSize": 16, "align": "center", "baseline": "middle", "color": "#111111"},
          "encoding": {"x": {"field": "lx", "type": "quantitative"}, "y": {"field": "ly", "type": "quantitative"}, "text": {"field": "n"}}
        },
        {
          "data": {"values": [{"piece": "-log"}]},
          "mark": {"type": "text", "fontSize": 16, "align": "left", "baseline": "alphabetic", "color": "#111111"},
          "encoding": {"x": {"datum": 11.77}, "y": {"datum": 13.95}, "text": {"field": "piece"}}
        },
        {
          "data": {"values": [{"piece": "10"}]},
          "mark": {"type": "text", "fontSize": 10.5, "align": "left", "baseline": "alphabetic", "dx": 26.7, "dy": 4, "color": "#111111"},
          "encoding": {"x": {"datum": 11.77}, "y": {"datum": 13.95}, "text": {"field": "piece"}}
        },
        {
          "data": {"values": [{"piece": "("}]},
          "mark": {"type": "text", "fontSize": 16, "align": "left", "baseline": "alphabetic", "dx": 38.4, "color": "#111111"},
          "encoding": {"x": {"datum": 11.77}, "y": {"datum": 13.95}, "text": {"field": "piece"}}
        },
        {
          "data": {"values": [{"piece": "P"}]},
          "mark": {"type": "text", "fontSize": 16, "fontStyle": "italic", "align": "left", "baseline": "alphabetic", "dx": 43.7, "color": "#111111"},
          "encoding": {"x": {"datum": 11.77}, "y": {"datum": 13.95}, "text": {"field": "piece"}}
        },
        {
          "data": {"values": [{"piece": "adj"}]},
          "mark": {"type": "text", "fontSize": 10.5, "fontStyle": "italic", "align": "left", "baseline": "alphabetic", "dx": 54.4, "dy": 4, "color": "#111111"},
          "encoding": {"x": {"datum": 11.77}, "y": {"datum": 13.95}, "text": {"field": "piece"}}
        },
        {
          "data": {"values": [{"piece": ")"}]},
          "mark": {"type": "text", "fontSize": 16, "align": "left", "baseline": "alphabetic", "dx": 68.4, "color": "#111111"},
          "encoding": {"x": {"datum": 11.77}, "y": {"datum": 13.95}, "text": {"field": "piece"}}
        }
      ]
    }
  ]
}
